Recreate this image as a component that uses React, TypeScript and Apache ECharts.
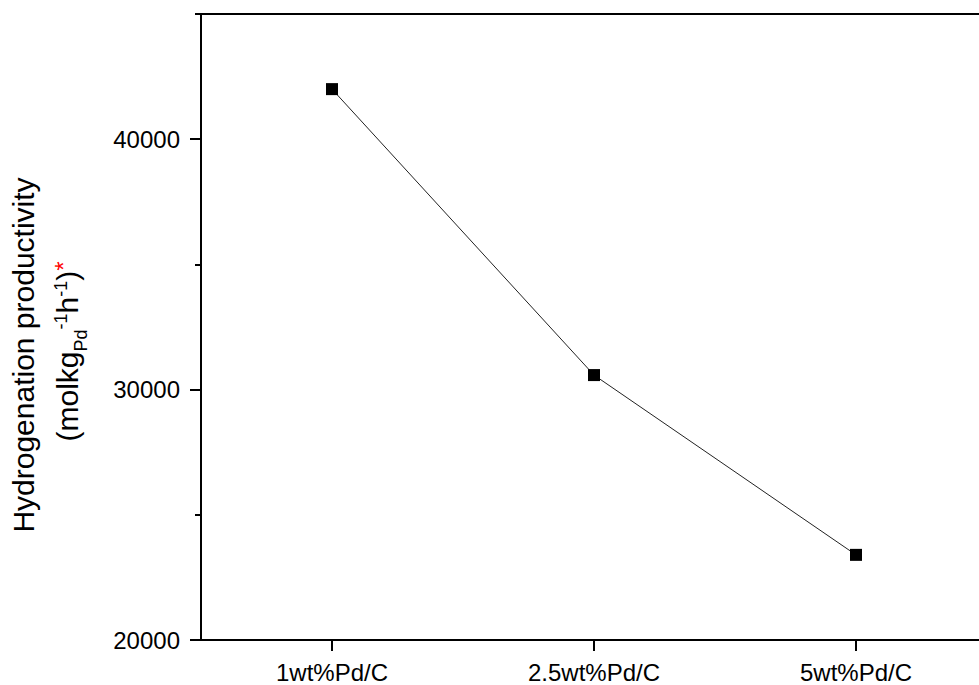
import React, { useEffect, useRef } from "react";
import * as echarts from "echarts";

const categories = ["1wt%Pd/C", "2.5wt%Pd/C", "5wt%Pd/C"];
const productivity = [42000, 30580, 23400];
const majorTicks = [20000, 30000, 40000];
const minorTicks = [25000, 35000, 45000];
const yMin = 20000;
const yMax = 45000;

const titleLine1 = "Hydrogenation productivity";
// [text, kind] where kind: base | sub | sup | star
const titleLine2: [string, string][] = [
  ["(molkg", "base"],
  ["Pd", "sub"],
  ["-1", "sup"],
  ["h", "base"],
  ["-1", "sup"],
  [")", "base"],
  ["*", "star"],
];

const FONT_NAME = "Liberation Sans";
const FONT = "'Liberation Sans', Arial, sans-serif";

export default function App() {
  const ref = useRef<HTMLDivElement>(null);
  useEffect(() => {
    if (!ref.current) return;
    const chart = echarts.init(ref.current, null, { renderer: "svg" });

    const canvas = document.createElement("canvas");
    const ctx = canvas.getContext("2d") as CanvasRenderingContext2D;
    const measure = (t: string, size: number) => {
      ctx.font = `${size}px "${FONT_NAME}", Arial, sans-serif`;
      return ctx.measureText(t).width;
    };

    const baseSize = 30;
    const smallSize = 18;
    const starSize = 24;
    const kindStyle: Record<string, { size: number; pos: number; color: string }> = {
      base: { size: baseSize, pos: 67.5, color: "#000" },
      sub: { size: smallSize, pos: 80.5, color: "#000" },
      sup: { size: smallSize, pos: 60.5, color: "#000" },
      star: { size: starSize, pos: 63.5, color: "#ff0000" },
    };
    const widths = titleLine2.map(([t, k]) => measure(t, kindStyle[k].size));
    const total2 = widths.reduce((a, b) => a + b, 0);
    const line2Center = 351.5;
    let cursor = -total2 / 2;
    const line2Children = titleLine2.map(([t, k], i) => {
      const st = kindStyle[k];
      const el = {
        type: "text",
        x: cursor,
        y: st.pos,
        style: {
          text: t,
          fontSize: st.size,
          fontFamily: FONT,
          fill: st.color,
          align: "left",
          verticalAlign: "middle",
        },
      };
      cursor += widths[i];
      return el;
    });

    chart.setOption({
      animation: false,
      backgroundColor: "#fff",
      grid: { left: 201, top: 14, bottom: 45, right: 13, containLabel: false },
      xAxis: [
        {
          type: "category",
          data: categories,
          boundaryGap: true,
          axisLine: { show: true, lineStyle: { color: "#000", width: 2 } },
          axisTick: { show: true, alignWithLabel: true, length: 11, lineStyle: { color: "#000", width: 2 } },
          axisLabel: { color: "#000", fontSize: 24, fontFamily: FONT, margin: 20 },
          splitLine: { show: false },
        },
        {
          type: "category",
          data: categories,
          position: "top",
          boundaryGap: true,
          axisLine: { show: true, lineStyle: { color: "#000", width: 2 } },
          axisTick: { show: false },
          axisLabel: { show: false },
          splitLine: { show: false },
        },
      ],
      yAxis: [
        {
          type: "value",
          min: yMin,
          max: yMax,
          interval: 10000,
          position: "left",
          axisLine: { show: true, lineStyle: { color: "#000", width: 2 } },
          axisTick: { show: true, length: 11, customValues: majorTicks, lineStyle: { color: "#000", width: 2 } },
          axisLabel: {
            color: "#000",
            fontSize: 24,
            fontFamily: FONT,
            margin: 21,
            customValues: majorTicks,
            formatter: (v: number) => (majorTicks.includes(v) ? String(v) : ""),
          },
          splitLine: { show: false },
        },
        {
          type: "value",
          min: yMin,
          max: yMax,
          interval: 5000,
          position: "left",
          axisLine: { show: false },
          axisTick: { show: true, length: 6, customValues: minorTicks, lineStyle: { color: "#000", width: 2 } },
          axisLabel: { show: false },
          splitLine: { show: false },
        },
      ],
      series: [
        {
          type: "line",
          data: productivity,
          xAxisIndex: 0,
          yAxisIndex: 0,
          symbol: "rect",
          symbolSize: 12,
          itemStyle: { color: "#000" },
          lineStyle: { color: "#222", width: 1 },
        },
      ],
      graphic: [
        {
          type: "group",
          x: 0,
          y: 355,
          rotation: Math.PI / 2,
          children: [
            {
              type: "text",
              x: 0,
              y: 23.5,
              style: {
                text: titleLine1,
                fontSize: baseSize,
                fontFamily: FONT,
                fill: "#000",
                align: "center",
                verticalAlign: "middle",
              },
            },
          ],
        },
        {
          type: "group",
          x: 0,
          y: line2Center,
          rotation: Math.PI / 2,
          children: line2Children,
        },
      ],
    });
    return () => chart.dispose();
  }, []);
  return (
    <div style={{ position: "absolute", left: 0, top: 0, width: 979, height: 685, overflow: "hidden", background: "#fff" }}>
      <div ref={ref} style={{ width: 1000, height: 685 }} />
    </div>
  );
}
